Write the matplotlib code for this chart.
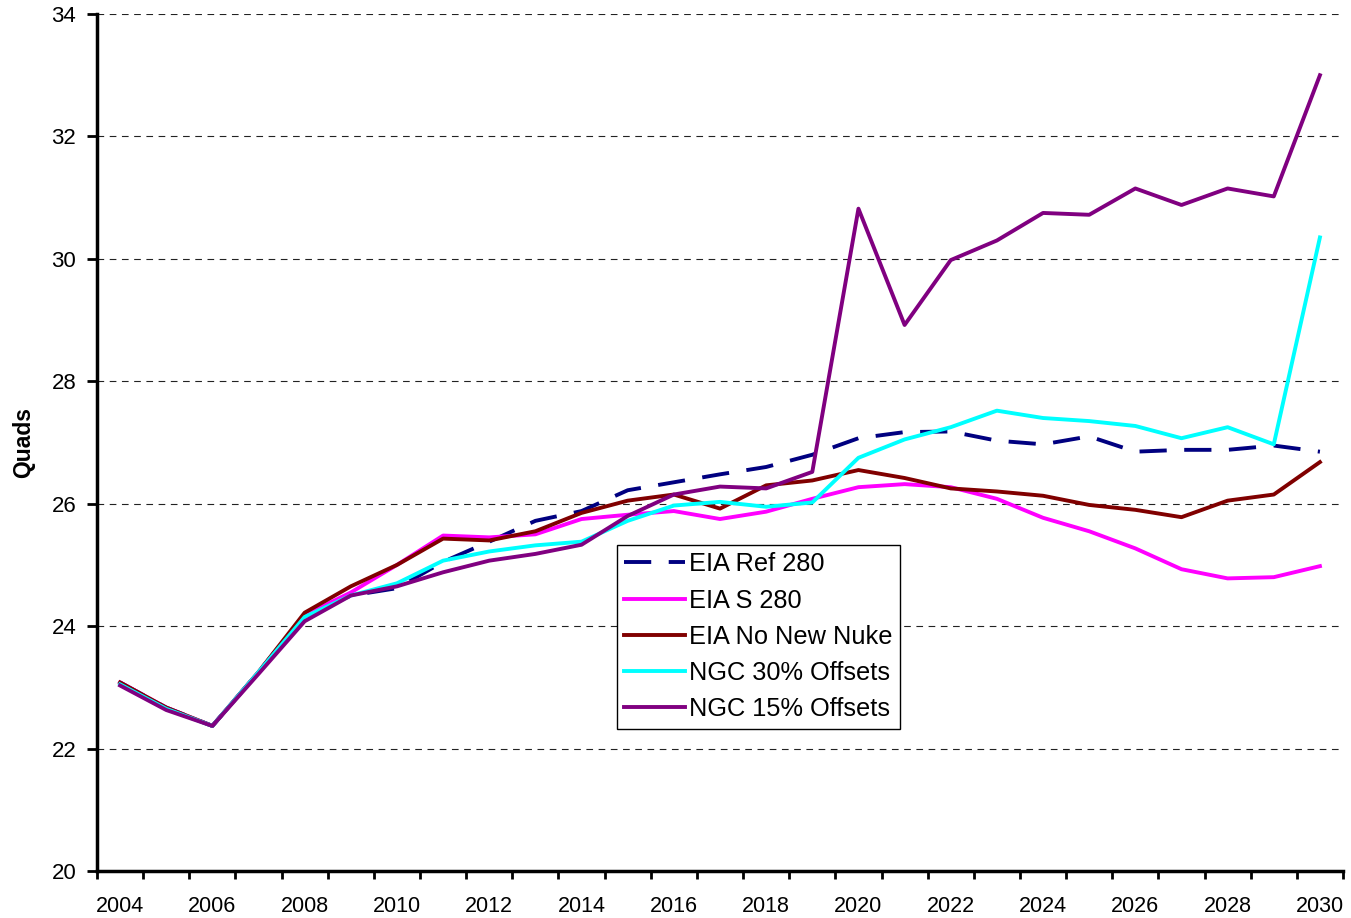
import numpy as np
import matplotlib.pyplot as plt

years = list(range(2004, 2031))

eia_ref_280 = [23.08, 22.67, 22.37, 23.25, 24.18, 24.50, 24.62, 25.05, 25.38, 25.72,
               25.88, 26.22, 26.35, 26.48, 26.60, 26.80, 27.07, 27.17, 27.18, 27.03,
               26.97, 27.10, 26.85, 26.88, 26.88, 26.95, 26.85]
eia_s_280 = [23.08, 22.67, 22.37, 23.25, 24.18, 24.55, 25.00, 25.48, 25.45, 25.50,
             25.75, 25.82, 25.88, 25.75, 25.87, 26.08, 26.27, 26.32, 26.27, 26.08,
             25.77, 25.55, 25.27, 24.93, 24.78, 24.80, 24.98]
eia_no_new_nuke = [23.08, 22.67, 22.37, 23.25, 24.22, 24.65, 25.00, 25.43, 25.40, 25.55,
                   25.85, 26.05, 26.15, 25.92, 26.30, 26.38, 26.55, 26.42, 26.25, 26.20,
                   26.13, 25.98, 25.90, 25.78, 26.05, 26.15, 26.68]
ngc_30_offsets = [23.05, 22.65, 22.37, 23.25, 24.15, 24.50, 24.70, 25.07, 25.22, 25.32,
                  25.38, 25.72, 25.97, 26.03, 25.95, 26.02, 26.75, 27.05, 27.25, 27.52,
                  27.40, 27.35, 27.27, 27.07, 27.25, 26.97, 30.35]
ngc_15_offsets = [23.03, 22.63, 22.37, 23.22, 24.08, 24.50, 24.65, 24.88, 25.07, 25.18,
                  25.33, 25.80, 26.15, 26.28, 26.25, 26.52, 30.82, 28.92, 29.98, 30.30,
                  30.75, 30.72, 31.15, 30.88, 31.15, 31.02, 33.00]

series_labels = ["EIA Ref 280", "EIA S 280", "EIA No New Nuke",
                 "NGC 30% Offsets", "NGC 15% Offsets"]

plt.rcParams['font.family'] = ['Liberation Sans', 'DejaVu Sans']

fig = plt.figure(figsize=(13.51, 9.18), dpi=100)
ax = fig.add_axes([97 / 1351, 1 - 871 / 918, 1246 / 1351, 857 / 918])

x = np.arange(len(years))
lw = 2.8
ax.plot(x, eia_ref_280, color="#000080", lw=lw, dashes=(7, 4.5), label=series_labels[0])
ax.plot(x, eia_s_280, color="#FF00FF", lw=lw, label=series_labels[1])
ax.plot(x, eia_no_new_nuke, color="#800000", lw=lw, label=series_labels[2])
ax.plot(x, ngc_30_offsets, color="#00FFFF", lw=lw, label=series_labels[3])
ax.plot(x, ngc_15_offsets, color="#800080", lw=lw, label=series_labels[4])

ax.set_xlim(-0.5, len(years) - 0.5)
ax.set_ylim(20, 34)

# tick marks on category boundaries, labels every other year at centres
ax.set_xticks(np.arange(-0.5, len(years), 1))
ax.set_xticklabels([])
ax.set_xticks(x[::2], minor=True)
ax.set_xticklabels([str(y) for y in years[::2]], minor=True, fontsize=15.5)
ax.tick_params(axis="x", which="major", length=6, width=2, direction="out")
ax.tick_params(axis="x", which="minor", length=0, pad=18)

ax.set_yticks(np.arange(20, 35, 2))
ax.set_yticklabels([str(v) for v in range(20, 35, 2)], fontsize=16)
ax.tick_params(axis="y", length=7, width=2, direction="out", pad=8)

ax.yaxis.grid(True, color="#222222", linestyle=(0, (6, 5)), linewidth=0.8)
ax.set_axisbelow(True)

for side in ["top", "right"]:
    ax.spines[side].set_visible(False)
for side in ["left", "bottom"]:
    ax.spines[side].set_linewidth(2.5)

ax.set_ylabel("Quads", fontsize=16.5, fontweight="bold", labelpad=12)

leg = ax.legend(loc="lower left", bbox_to_anchor=(0.417, 0.166), fontsize=18.3,
                frameon=True, fancybox=False, framealpha=1, edgecolor="black",
                handlelength=2.4, handletextpad=0.15, labelspacing=0.48,
                borderpad=0.3, borderaxespad=0)
leg.get_frame().set_linewidth(1.0)

fig.savefig("out.png", dpi=100)
